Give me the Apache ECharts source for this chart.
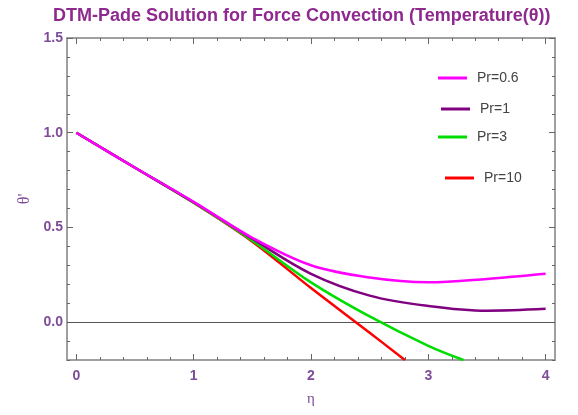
<!DOCTYPE html>
<html>
<head>
<meta charset="utf-8">
<script src="https://cdn.jsdelivr.net/npm/echarts@6/dist/echarts.min.js"></script>
<style>html,body{margin:0;padding:0;background:#fff}#c{width:578px;height:415px}</style>
</head>
<body>
<div id="c"></div>
<script>
// Data
const seriesNames = ['Pr=0.6', 'Pr=1', 'Pr=3', 'Pr=10'];
const pr06 = [[0,1.0],[0.5,0.815],[1.0,0.635],[1.5,0.445],[2.0,0.30],[2.5,0.235],[3.0,0.21],[3.5,0.228],[4.0,0.255]];
const pr1  = [[0,1.0],[0.5,0.815],[1.0,0.633],[1.5,0.44],[2.0,0.255],[2.5,0.14],[3.0,0.085],[3.5,0.06],[4.0,0.07]];
const pr3  = [[0,1.0],[0.5,0.815],[1.0,0.63],[1.5,0.43],[2.0,0.21],[2.5,0.03],[3.0,-0.125],[3.3,-0.2]];
const pr10 = [[0,1.0],[0.5,0.815],[1.0,0.63],[1.5,0.425],[2.0,0.18],[2.5,-0.056],[2.8,-0.2]];
const xTickLabels = [0,1,2,3,4];
const xMinorTicks = [0,0.2,0.4,0.6,0.8,1,1.2,1.4,1.6,1.8,2,2.2,2.4,2.6,2.8,3,3.2,3.4,3.6,3.8,4];
const yTickLabels = [0,0.5,1.0,1.5];
const yMinorTicks = [-0.2,-0.1,0,0.1,0.2,0.3,0.4,0.5,0.6,0.7,0.8,0.9,1.0,1.1,1.2,1.3,1.4,1.5];

const colors = ['#FF00FF', '#800080', '#00DD00', '#FF0000'];
const seriesData = [pr06, pr1, pr3, pr10];
const tickCol = '#7E4C99';
const frameCol = '#9a9a9a';
const XMIN = -0.08, XMAX = 4.08, YMIN = -0.2, YMAX = 1.5;

function xAx(pos, major) {
  return {
    type: 'value', position: pos, min: XMIN, max: XMAX,
    name: (pos === 'bottom' && major) ? 'η' : '',
    nameLocation: 'middle', nameGap: 32,
    nameTextStyle: { color: tickCol, fontSize: 15, fontFamily: 'Liberation Serif' },
    axisLine: { show: true, onZero: false, lineStyle: { color: frameCol, width: 1.5 } },
    axisTick: { show: true, inside: true, length: major ? 6 : 3,
      customValues: major ? xTickLabels : xMinorTicks, lineStyle: { color: '#666' } },
    axisLabel: { show: pos === 'bottom' && major, customValues: xTickLabels, margin: 9,
      color: tickCol, fontWeight: 'bold', fontSize: 14, fontFamily: 'Liberation Sans' },
    splitLine: { show: false }
  };
}
function yAx(pos, major) {
  return {
    type: 'value', position: pos, min: YMIN, max: YMAX,
    name: (pos === 'left' && major) ? "θ'" : '',
    nameLocation: 'middle', nameGap: 31, nameRotate: 90,
    nameTextStyle: { color: tickCol, fontSize: 16, fontFamily: 'Liberation Serif' },
    axisLine: { show: true, onZero: false, lineStyle: { color: frameCol, width: 1.5 } },
    axisTick: { show: true, inside: true, length: major ? 6 : 3,
      customValues: major ? yTickLabels : yMinorTicks, lineStyle: { color: '#666' } },
    axisLabel: { show: pos === 'left' && major, customValues: yTickLabels, margin: 4,
      color: tickCol, fontWeight: 'bold', fontSize: 14, fontFamily: 'Liberation Sans',
      formatter: v => v.toFixed(1) },
    splitLine: { show: false }
  };
}

const legendPos = [[433, 66], [436, 97], [433, 125], [440, 166]];
const legends = seriesNames.map((n, i) => ({
  data: [n], left: legendPos[i][0], top: legendPos[i][1],
  icon: 'rect', itemWidth: 29, itemHeight: 3,
  textStyle: { color: '#444', fontSize: 14, fontFamily: 'Liberation Sans', padding: [0, 0, 0, 5] },
  selectedMode: false
}));

const series = seriesNames.map((n, i) => ({
  name: n, type: 'line', xAxisIndex: 0, yAxisIndex: 0,
  data: seriesData[i], smooth: 0.35, showSymbol: false, symbol: 'none',
  lineStyle: { color: colors[i], width: 2.5 }, itemStyle: { color: colors[i] },
  z: 10 - i,
  markLine: i === 3 ? {
    silent: true, symbol: 'none', label: { show: false },
    lineStyle: { color: '#555', type: 'solid', width: 1 },
    data: [{ yAxis: 0 }]
  } : undefined
}));
series.reverse();

const chart = echarts.init(document.getElementById('c'), null, { renderer: 'canvas' });
chart.setOption({
  animation: false,
  backgroundColor: '#fff',
  title: {
    text: 'DTM-Pade Solution for Force Convection (Temperature(θ))',
    left: 48, top: 2,
    textStyle: { color: '#8E2A8E', fontSize: 18, fontWeight: 'bold', fontFamily: 'Liberation Sans' }
  },
  legend: legends,
  grid: { left: 67, right: 23, top: 38, bottom: 55, containLabel: false },
  xAxis: [xAx('bottom', true), xAx('bottom', false), xAx('top', true), xAx('top', false)],
  yAxis: [yAx('left', true), yAx('left', false), yAx('right', true), yAx('right', false)],
  series: series
});
</script>
</body>
</html>
